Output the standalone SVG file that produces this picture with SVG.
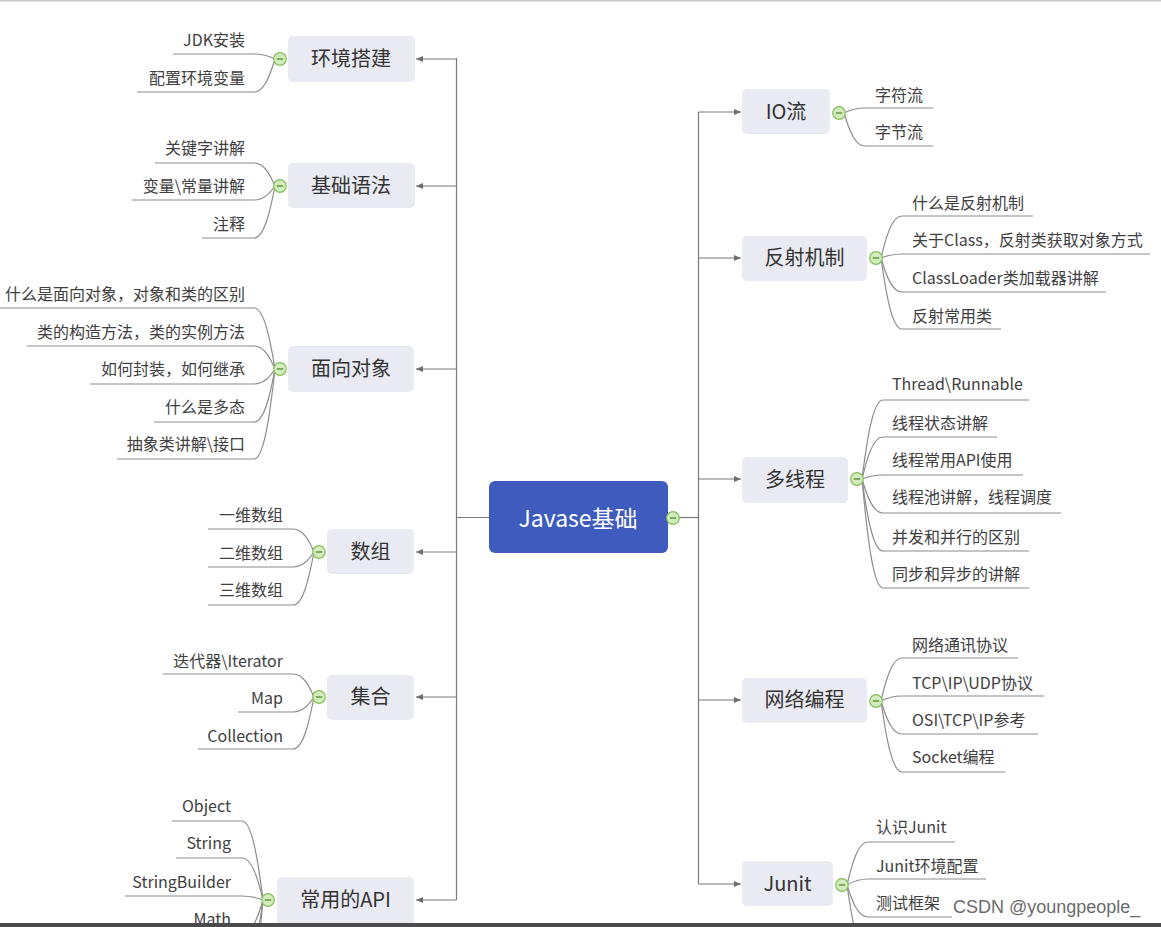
<svg xmlns="http://www.w3.org/2000/svg" width="1161" height="927" viewBox="0 0 1161 927">
<defs>
<style>
.bg{fill:#ffffff}
.box{fill:#e9eaf2}
.lbl{font-family:"Noto Sans CJK SC","Liberation Sans",sans-serif;font-size:20px;fill:#333333;text-anchor:middle}
.ch{font-family:"Noto Sans CJK SC","Liberation Sans",sans-serif;font-size:16px;fill:#404040}
.l{text-anchor:end}
.ln{fill:none;stroke:#8c8c8c;stroke-width:1.2}
.tr{fill:none;stroke:#7a7a7a;stroke-width:1.2}
.cc{fill:#d3ecbd;stroke:#86bd5a;stroke-width:1.2}
.cm{stroke:#4e8a2a;stroke-width:1.3}
</style>
<marker id="ah" markerWidth="8" markerHeight="7" refX="7" refY="3.5" orient="auto" markerUnits="userSpaceOnUse">
<path d="M0,0.5 L7,3.5 L0,6.5 z" fill="#6e6e6e"/>
</marker>
<g id="col">
<circle class="cc" cx="0" cy="0" r="6.3"/>
<line class="cm" x1="-3.2" y1="0" x2="3.2" y2="0"/>
</g>
</defs>
<rect class="bg" x="0" y="0" width="1161" height="927"/>
<rect x="0" y="0" width="1161" height="1.5" fill="#c8c8c8"/>

<g id="connectors">
<path class="tr" d="M456.5,58 V900"/>
<path class="tr" d="M698.5,112 V884"/>
<path class="tr" d="M456.5,517.5 H489"/>
<path class="tr" d="M679,517.5 H698.5"/>
<path class="tr" d="M456.5,59 H416" marker-end="url(#ah)"/>
<path class="tr" d="M456.5,186 H416" marker-end="url(#ah)"/>
<path class="tr" d="M456.5,369 H416" marker-end="url(#ah)"/>
<path class="tr" d="M456.5,552 H416" marker-end="url(#ah)"/>
<path class="tr" d="M456.5,697 H416" marker-end="url(#ah)"/>
<path class="tr" d="M456.5,900 H416" marker-end="url(#ah)"/>
<path class="tr" d="M698.5,112 H741" marker-end="url(#ah)"/>
<path class="tr" d="M698.5,258 H741" marker-end="url(#ah)"/>
<path class="tr" d="M698.5,479 H741" marker-end="url(#ah)"/>
<path class="tr" d="M698.5,700 H741" marker-end="url(#ah)"/>
<path class="tr" d="M698.5,884 H741" marker-end="url(#ah)"/>
<path class="ln" d="M173,54 H254 C264,54 270,56.5 275,59"/>
<path class="ln" d="M137,92 H254 C264,92 270,75.5 275,59"/>
<path class="ln" d="M155,163 H254 C264,163 270,174.5 275,186"/>
<path class="ln" d="M132,200 H254 C264,200 270,193 275,186"/>
<path class="ln" d="M202,238 H254 C264,238 270,212 275,186"/>
<path class="ln" d="M0,308 H254 C264,308 270,338.5 275,369"/>
<path class="ln" d="M27,346 H254 C264,346 270,357.5 275,369"/>
<path class="ln" d="M90,384 H254 C264,384 270,376.5 275,369"/>
<path class="ln" d="M154,422 H254 C264,422 270,395.5 275,369"/>
<path class="ln" d="M117,459 H254 C264,459 270,414 275,369"/>
<path class="ln" d="M208,529 H293 C303,529 309,540.5 314,552"/>
<path class="ln" d="M208,567 H293 C303,567 309,559.5 314,552"/>
<path class="ln" d="M208,605 H293 C303,605 309,578.5 314,552"/>
<path class="ln" d="M163,674 H293 C303,674 309,685.5 314,697"/>
<path class="ln" d="M238,712 H293 C303,712 309,704.5 314,697"/>
<path class="ln" d="M198,749 H293 C303,749 309,723 314,697"/>
<path class="ln" d="M172,821 H242 C252,821 258,860.5 263,900"/>
<path class="ln" d="M176,858 H242 C252,858 258,879 263,900"/>
<path class="ln" d="M125,896 H242 C252,896 258,898 263,900"/>
<path class="ln" d="M182,934 H242 C252,934 258,917 263,900"/>
<path class="ln" d="M150,972 H242 C252,972 258,936 263,900"/>
<path class="ln" d="M150,1010 H242 C252,1010 258,955 263,900"/>
<path class="ln" d="M844,113 C849,110.5 855,108 865,108 H933"/>
<path class="ln" d="M844,113 C849,129.5 855,146 865,146 H933"/>
<path class="ln" d="M881,258 C886,237 892,216 902,216 H1033"/>
<path class="ln" d="M881,258 C886,256 892,254 902,254 H1150"/>
<path class="ln" d="M881,258 C886,275 892,292 902,292 H1106"/>
<path class="ln" d="M881,258 C886,293.5 892,329 902,329 H1001"/>
<path class="ln" d="M862,479 C867,439.5 873,400 883,400 H1029"/>
<path class="ln" d="M862,479 C867,458 873,437 883,437 H997"/>
<path class="ln" d="M862,479 C867,477 873,475 883,475 H1023"/>
<path class="ln" d="M862,479 C867,496 873,513 883,513 H1061"/>
<path class="ln" d="M862,479 C867,515 873,551 883,551 H1029"/>
<path class="ln" d="M862,479 C867,533.5 873,588 883,588 H1029"/>
<path class="ln" d="M881,701 C886,679.5 892,658 902,658 H1018"/>
<path class="ln" d="M881,701 C886,698.5 892,696 902,696 H1044"/>
<path class="ln" d="M881,701 C886,717.5 892,734 902,734 H1038"/>
<path class="ln" d="M881,701 C886,736.5 892,772 902,772 H1005"/>
<path class="ln" d="M847,885 C852,863.5 858,842 868,842 H955"/>
<path class="ln" d="M847,885 C852,882 858,879 868,879 H986"/>
<path class="ln" d="M847,885 C852,901 858,917 868,917 H952"/>
<path class="ln" d="M847,885 C852,920 858,955 868,955 H960"/>
</g>

<g id="root">
<rect x="489" y="481" width="179" height="72" rx="6" fill="#3f5bbd"/>
<text x="578" y="527" font-family="'Noto Sans CJK SC','Liberation Sans',sans-serif" font-size="23" fill="#ffffff" text-anchor="middle">Javase基础</text>
<use href="#col" x="673" y="518"/>
</g>

<g id="n-env">
<rect class="box" x="288" y="36" width="127" height="46" rx="5"/>
<text class="lbl" x="351" y="66">环境搭建</text>
<use href="#col" x="280" y="59"/>
<text class="ch l" x="245" y="46">JDK安装</text>
<text class="ch l" x="245" y="84">配置环境变量</text>
</g>

<g id="n-syntax">
<rect class="box" x="288" y="163" width="127" height="45" rx="5"/>
<text class="lbl" x="351" y="193">基础语法</text>
<use href="#col" x="280" y="186"/>
<text class="ch l" x="245" y="154">关键字讲解</text>
<text class="ch l" x="245" y="192">变量\常量讲解</text>
<text class="ch l" x="245" y="230">注释</text>
</g>

<g id="n-oop">
<rect class="box" x="288" y="346" width="126" height="46" rx="5"/>
<text class="lbl" x="351" y="376">面向对象</text>
<use href="#col" x="280" y="369"/>
<text class="ch l" x="245" y="300">什么是面向对象，对象和类的区别</text>
<text class="ch l" x="245" y="338">类的构造方法，类的实例方法</text>
<text class="ch l" x="245" y="375">如何封装，如何继承</text>
<text class="ch l" x="245" y="413">什么是多态</text>
<text class="ch l" x="245" y="450">抽象类讲解\接口</text>
</g>

<g id="n-array">
<rect class="box" x="327" y="529" width="87" height="45" rx="5"/>
<text class="lbl" x="370.5" y="559">数组</text>
<use href="#col" x="319" y="552"/>
<text class="ch l" x="283" y="521">一维数组</text>
<text class="ch l" x="283" y="559">二维数组</text>
<text class="ch l" x="283" y="596">三维数组</text>
</g>

<g id="n-coll">
<rect class="box" x="327" y="675" width="87" height="45" rx="5"/>
<text class="lbl" x="370.5" y="704">集合</text>
<use href="#col" x="319" y="697"/>
<text class="ch l" x="283" y="667">迭代器\Iterator</text>
<text class="ch l" x="283" y="704">Map</text>
<text class="ch l" x="283" y="742">Collection</text>
</g>

<g id="n-api">
<rect class="box" x="277" y="877" width="137" height="60" rx="5"/>
<text class="lbl" x="345.5" y="907">常用的API</text>
<use href="#col" x="268" y="900"/>
<text class="ch l" x="231" y="812">Object</text>
<text class="ch l" x="231" y="849">String</text>
<text class="ch l" x="231" y="888">StringBuilder</text>
<text class="ch l" x="231" y="925">Math</text>
</g>

<g id="n-io">
<rect class="box" x="742" y="89" width="88" height="45" rx="5"/>
<text class="lbl" x="786" y="119">IO流</text>
<use href="#col" x="839" y="113"/>
<text class="ch" x="875" y="101">字符流</text>
<text class="ch" x="875" y="138">字节流</text>
</g>

<g id="n-reflect">
<rect class="box" x="742" y="236" width="125" height="45" rx="5"/>
<text class="lbl" x="804.5" y="265">反射机制</text>
<use href="#col" x="876" y="258"/>
<text class="ch" x="912" y="209">什么是反射机制</text>
<text class="ch" x="912" y="246">关于Class，反射类获取对象方式</text>
<text class="ch" x="912" y="284">ClassLoader类加载器讲解</text>
<text class="ch" x="912" y="322">反射常用类</text>
</g>

<g id="n-thread">
<rect class="box" x="742" y="457" width="106" height="46" rx="5"/>
<text class="lbl" x="795" y="487">多线程</text>
<use href="#col" x="857" y="479"/>
<text class="ch" x="892" y="390">Thread\Runnable</text>
<text class="ch" x="892" y="429">线程状态讲解</text>
<text class="ch" x="892" y="466">线程常用API使用</text>
<text class="ch" x="892" y="503">线程池讲解，线程调度</text>
<text class="ch" x="892" y="543">并发和并行的区别</text>
<text class="ch" x="892" y="580">同步和异步的讲解</text>
</g>

<g id="n-net">
<rect class="box" x="742" y="678" width="125" height="45" rx="5"/>
<text class="lbl" x="804.5" y="707">网络编程</text>
<use href="#col" x="876" y="701"/>
<text class="ch" x="912" y="651">网络通讯协议</text>
<text class="ch" x="912" y="689">TCP\IP\UDP协议</text>
<text class="ch" x="912" y="726">OSI\TCP\IP参考</text>
<text class="ch" x="912" y="763">Socket编程</text>
</g>

<g id="n-junit">
<rect class="box" x="742" y="861" width="91" height="45" rx="5"/>
<text class="lbl" x="787.5" y="891">Junit</text>
<use href="#col" x="842" y="885"/>
<text class="ch" x="876" y="833">认识Junit</text>
<text class="ch" x="876" y="872">Junit环境配置</text>
<text class="ch" x="876" y="909">测试框架</text>
</g>

<text x="953" y="913" font-family="'Liberation Sans',Arial,sans-serif" font-size="18" fill="#6b6b6b">CSDN @youngpeople_</text>
<rect x="0" y="923" width="1161" height="4" fill="#4b4b4b"/>
</svg>
